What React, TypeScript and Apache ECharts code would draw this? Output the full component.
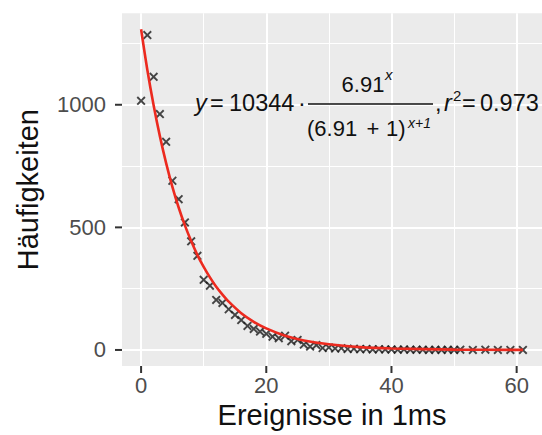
import React, { useEffect, useRef } from "react";
import * as echarts from "echarts";

// observed events per 1 ms window (x) and their frequencies (y)
const eventsX = [
  0, 1, 2, 3, 4, 5, 6, 7, 8, 9, 10, 11, 12, 13, 14, 15, 16, 17, 18, 19, 20,
  21, 22, 23, 24, 25, 26, 27, 28, 29, 30, 31, 32, 33, 34, 35, 36, 37, 38, 39,
  40, 41, 42, 43, 44, 45, 46, 47, 48, 49, 50, 51, 53, 55, 57, 59, 61,
];
const counts = [
  1016, 1284, 1114, 962, 849, 690, 615, 520, 443, 384, 286, 262, 204, 192, 166,
  143, 122, 98, 86, 75, 66, 54, 48, 58, 36, 41, 22, 14, 20, 8, 10, 6, 7, 4, 5,
  3, 4, 2, 3, 2, 2, 1, 2, 1, 1, 1, 0, 1, 0, 1, 0, 1, 0, 1, 0, 0, 0,
];

// fitted curve
const fitX = [0, 1, 2, 3, 4, 5, 6, 7, 8, 9, 10, 11, 12, 13, 14, 16, 18, 20, 23, 26, 30, 35, 40, 50, 61];
const fitY = [1308, 1142, 998, 872, 762, 665, 581, 508, 444, 387, 339, 296, 258, 226, 197, 150, 115, 88, 58, 39, 23, 11.5, 6, 1.5, 0.3];

// axis ranges, tick values and grid lines
const X_MIN = -3.05;
const X_MAX = 64.05;
const Y_MIN = -65.4;
const Y_MAX = 1373;
const xMajorTicks = [0, 20, 40, 60];
const xMinorGrid = [10, 30, 50];
const yMajorTicks = [0, 500, 1000];
const yMinorGrid = [250, 750, 1250];

const FONT = "'Liberation Sans', Arial, Helvetica, sans-serif";
const INK = "#111111";
const TICK_LEN = 7;

const CROSS =
  "path://M0,1.5L1.5,0L5,3.5L8.5,0L10,1.5L6.5,5L10,8.5L8.5,10L5,6.5L1.5,10L0,8.5L3.5,5Z";

function txt(text: string, x: number, y: number, opts: any = {}) {
  const size = opts.size ?? 23.5;
  const align = opts.align ?? "left";
  return {
    type: "text",
    silent: true,
    z: 50,
    style: {
      text,
      x,
      y,
      fill: INK,
      fontSize: size,
      fontFamily: FONT,
      fontStyle: opts.italic ? "italic" : "normal",
      textAlign: align,
      align,
      textVerticalAlign: "middle",
      verticalAlign: "middle",
    },
  };
}

export default function App() {
  const ref = useRef<HTMLDivElement>(null);

  useEffect(() => {
    if (!ref.current) return;
    const chart = echarts.init(ref.current, undefined, { renderer: "svg" });

    const gridLines = [
      ...yMajorTicks.map((v) => ({ yAxis: v, lineStyle: { width: 2 } })),
      ...yMinorGrid.map((v) => ({ yAxis: v, lineStyle: { width: 1 } })),
      ...xMajorTicks.map((v) => ({ xAxis: v, lineStyle: { width: 2 } })),
      ...xMinorGrid.map((v) => ({ xAxis: v, lineStyle: { width: 1 } })),
    ];

    const tickStyle = { stroke: "#333333", lineWidth: 2 };

    chart.setOption({
      animation: false,
      grid: {
        left: 122,
        top: 13.3,
        width: 432.8,
        height: 352.7,
        show: true,
        backgroundColor: "#ebebeb",
        borderWidth: 0,
      },
      xAxis: {
        type: "value",
        min: X_MIN,
        max: X_MAX,
        name: "Ereignisse in 1ms",
        nameLocation: "middle",
        nameGap: 32,
        nameTextStyle: { fontSize: 29, color: INK, fontFamily: FONT },
        axisLine: { show: false },
        splitLine: { show: false },
        axisTick: { show: false },
        axisLabel: {
          customValues: xMajorTicks,
          formatter: (v: number) => String(v),
          fontSize: 22,
          color: "#4d4d4d",
          fontFamily: FONT,
          margin: 8,
        },
      },
      yAxis: {
        type: "value",
        min: Y_MIN,
        max: Y_MAX,
        name: "Häufigkeiten",
        nameLocation: "middle",
        nameGap: 80,
        nameTextStyle: { fontSize: 29, color: INK, fontFamily: FONT },
        axisLine: { show: false },
        splitLine: { show: false },
        axisTick: { show: false },
        axisLabel: {
          customValues: yMajorTicks,
          formatter: (v: number) => String(v),
          fontSize: 22,
          color: "#4d4d4d",
          fontFamily: FONT,
          margin: 16,
        },
      },
      series: [
        {
          type: "scatter",
          data: eventsX.map((x, i) => [x, counts[i]]),
          symbol: CROSS,
          symbolSize: 9,
          itemStyle: { color: "#1a1a1a" },
          z: 3,
          silent: true,
        },
        {
          type: "line",
          data: fitX.map((x, i) => [x, fitY[i]]),
          showSymbol: false,
          symbol: "none",
          smooth: 0.3,
          lineStyle: { color: "#ec2a1f", width: 2.6 },
          z: 4,
          silent: true,
          markLine: {
            silent: true,
            z: 1,
            symbol: ["none", "none"],
            label: { show: false },
            lineStyle: { color: "#ffffff", type: "solid" },
            emphasis: { disabled: true },
            data: gridLines,
          },
        },
        {
          type: "custom",
          silent: true,
          clip: false,
          z: 6,
          data: yMajorTicks.map((v) => [X_MIN, v]),
          renderItem: (_p: any, api: any) => {
            const pt = api.coord([api.value(0), api.value(1)]);
            return {
              type: "line",
              shape: { x1: pt[0] - TICK_LEN, y1: pt[1], x2: pt[0], y2: pt[1] },
              style: tickStyle,
            };
          },
        },
        {
          type: "custom",
          silent: true,
          clip: false,
          z: 6,
          data: xMajorTicks.map((v) => [v, Y_MIN]),
          renderItem: (_p: any, api: any) => {
            const pt = api.coord([api.value(0), api.value(1)]);
            return {
              type: "line",
              shape: { x1: pt[0], y1: pt[1], x2: pt[0], y2: pt[1] + TICK_LEN },
              style: tickStyle,
            };
          },
        },
      ],
      graphic: {
        elements: [
          txt("y", 195, 103, { italic: true }),
          txt("=", 210, 103),
          txt("10344", 229, 103),
          txt("·", 302, 103, { align: "center" }),
          txt("6.91", 363, 84, { align: "center", size: 22 }),
          txt("x", 385, 74, { italic: true, size: 15 }),
          {
            type: "line",
            silent: true,
            z: 50,
            shape: { x1: 308, y1: 104, x2: 433, y2: 104 },
            style: { stroke: INK, lineWidth: 1.3 },
          },
          txt("(6.91", 307, 128, { size: 22 }),
          txt("+", 373, 128, { align: "center", size: 22 }),
          txt("1)", 386, 128, { size: 22 }),
          txt("x+1", 408, 123, { italic: true, size: 14 }),
          txt(",", 435, 103),
          txt("r", 444, 103, { italic: true }),
          txt("2", 453, 95, { size: 15 }),
          txt("=", 462, 103),
          txt("0.973", 480, 103),
        ],
      },
    });

    return () => chart.dispose();
  }, []);

  return (
    <div
      ref={ref}
      style={{ position: "fixed", left: 0, top: 0, width: 542, height: 435, background: "#ffffff" }}
    />
  );
}
